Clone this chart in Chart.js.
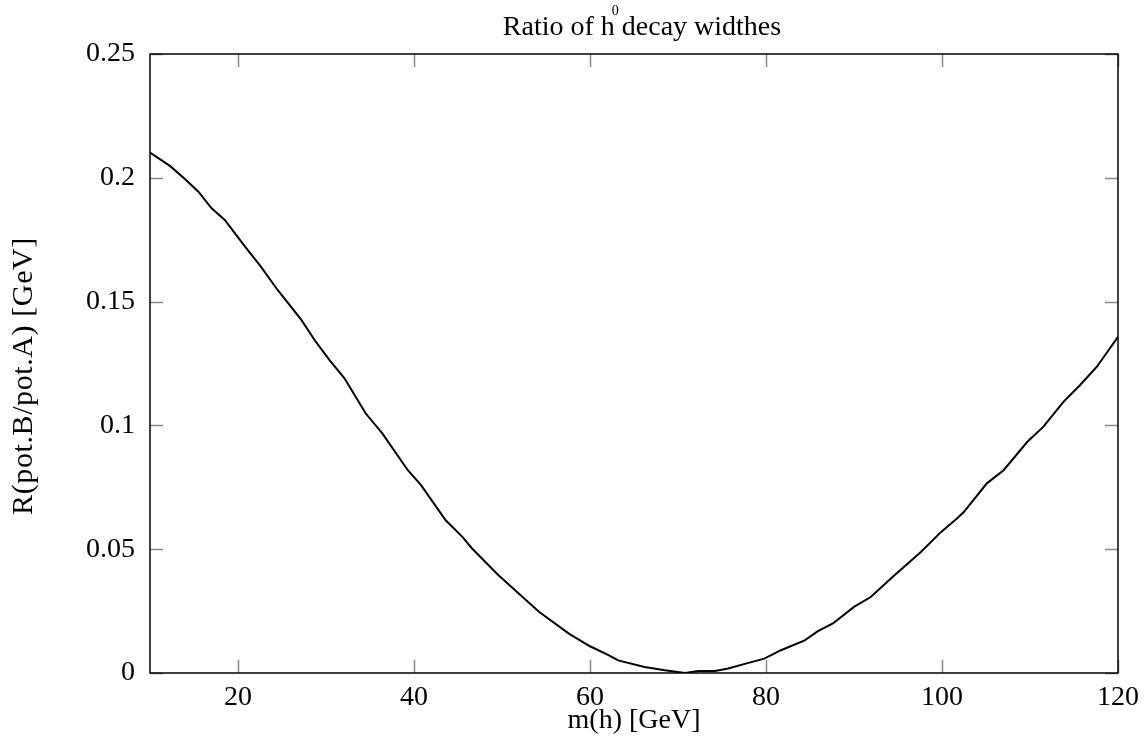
<!DOCTYPE html>
<html>
<head>
<meta charset="utf-8">
<title>Ratio of h0 decay widthes</title>
<script src="https://cdn.jsdelivr.net/npm/chart.js@4/dist/chart.umd.min.js"></script>
<style>
  html, body { margin: 0; padding: 0; background: #fff; }
  #wrap { position: relative; width: 1147px; height: 738px; }
</style>
</head>
<body>
<div id="wrap"><canvas id="ratioChart"></canvas></div>
<script>
// m(h) in GeV
const massGeV = [10, 12.3, 14.0, 15.5, 17.0, 18.5, 20.8, 22.6, 24.5, 27.2, 28.7, 30.4, 32.1, 34.5, 36.4,
  39.3, 40.8, 43.6, 45.5, 46.6, 49.6, 54.2, 57.6, 60.0, 62.1, 63.2, 66.2, 68.5, 70.8, 72.3, 74.2,
  75.7, 77.9, 79.8, 81.7, 84.4, 85.9, 87.6, 90.0, 91.9, 94.6, 97.6, 99.9, 101.7, 102.5, 105.1,
  107.0, 109.7, 111.5, 113.8, 115.7, 117.6, 120];
// R(pot.B/pot.A)
const ratio = [0.2102, 0.2047, 0.1994, 0.1944, 0.1877, 0.1830, 0.1722, 0.1641, 0.1547, 0.1426, 0.1345,
  0.1264, 0.1190, 0.1049, 0.0968, 0.0819, 0.0759, 0.0617, 0.0550, 0.0503, 0.0395, 0.0247, 0.0159,
  0.0108, 0.0072, 0.0051, 0.0024, 0.0011, 0.0000, 0.0008, 0.0008, 0.0018, 0.0040, 0.0058, 0.0092,
  0.0132, 0.0169, 0.0200, 0.0267, 0.0307, 0.0395, 0.0489, 0.0570, 0.0624, 0.0651, 0.0766, 0.0819,
  0.0934, 0.0994, 0.1095, 0.1163, 0.1237, 0.1358];

const xTicks = [20, 40, 60, 80, 100, 120];
const yTicks = [0, 0.05, 0.1, 0.15, 0.2, 0.25];

const serif = '"Liberation Serif", "Times New Roman", serif';
const TICK_LEN = 13;

// gnuplot-like frame with inward ticks on all four sides
const framePlugin = {
  id: 'frame',
  afterDatasetsDraw(chart) {
    const { ctx, chartArea: a, scales } = chart;
    ctx.save();
    ctx.strokeStyle = '#888';
    ctx.lineWidth = 1.5;
    ctx.beginPath();
    xTicks.forEach(v => {
      const px = Math.round(scales.x.getPixelForValue(v)) + 0.5;
      ctx.moveTo(px, a.bottom); ctx.lineTo(px, a.bottom - TICK_LEN);
      ctx.moveTo(px, a.top); ctx.lineTo(px, a.top + TICK_LEN);
    });
    yTicks.forEach(v => {
      const py = Math.round(scales.y.getPixelForValue(v)) + 0.5;
      ctx.moveTo(a.left, py); ctx.lineTo(a.left + TICK_LEN, py);
      ctx.moveTo(a.right, py); ctx.lineTo(a.right - TICK_LEN, py);
    });
    ctx.stroke();
    ctx.strokeStyle = '#000';
    ctx.lineWidth = 1.5;
    ctx.strokeRect(a.left, a.top, a.right - a.left, a.bottom - a.top);
    ctx.restore();
  },
  afterDraw(chart) {
    const { ctx, chartArea: a } = chart;
    ctx.save();
    ctx.fillStyle = '#000';
    // title with the superscript 0 on h
    ctx.textBaseline = 'alphabetic';
    const big = '28px ' + serif, small = '14px ' + serif;
    const p1 = 'Ratio of h', p2 = '0', p3 = 'decay widthes';
    ctx.font = big;
    const w1 = ctx.measureText(p1).width, w3 = ctx.measureText(p3).width;
    ctx.font = small;
    const w2 = ctx.measureText(p2).width;
    let x = (a.left + a.right) / 2 - (w1 + w2 + w3) / 2 + 8;
    const base = 35;
    ctx.font = big; ctx.fillText(p1, x, base); x += w1;
    ctx.font = small; ctx.fillText(p2, x - 3, base - 20); x += w2;
    ctx.font = big; ctx.fillText(p3, x, base);

    // y axis title, a bit below the middle of the frame as in the original
    ctx.translate(24, 376);
    ctx.rotate(-Math.PI / 2);
    ctx.font = '30px ' + serif;
    ctx.letterSpacing = '0.6px';
    ctx.textAlign = 'center';
    ctx.textBaseline = 'middle';
    ctx.fillText('R(pot.B/pot.A) [GeV]', 0, 0);
    ctx.restore();
  }
};

new Chart(document.getElementById('ratioChart'), {
  type: 'line',
  data: {
    datasets: [{
      data: massGeV.map((m, i) => ({ x: m, y: ratio[i] })),
      borderColor: '#000',
      borderWidth: 2,
      pointRadius: 0,
      tension: 0,
      fill: false
    }]
  },
  options: {
    responsive: true,
    maintainAspectRatio: false,
    animation: false,
    layout: { padding: { top: 54, right: 26, bottom: 0, left: 0 } },
    plugins: { legend: { display: false }, tooltip: { enabled: false }, title: { display: false } },
    scales: {
      x: {
        type: 'linear',
        min: 10,
        max: 120,
        afterFit: s => { s.height = 65; },
        afterBuildTicks: s => { s.ticks = xTicks.map(v => ({ value: v })); },
        grid: { display: false, drawTicks: false },
        border: { display: false },
        ticks: { color: '#000', font: { family: serif, size: 28 }, padding: 8, maxRotation: 0 },
        title: { display: true, text: 'm(h) [GeV]', color: '#000', font: { family: serif, size: 28 }, padding: { top: 0, bottom: 1 } }
      },
      y: {
        type: 'linear',
        min: 0,
        max: 0.25,
        afterFit: s => { s.width = 150; },
        afterBuildTicks: s => { s.ticks = yTicks.map(v => ({ value: v })); },
        grid: { display: false, drawTicks: false },
        border: { display: false },
        ticks: { color: '#000', font: { family: serif, size: 28 }, padding: 15, callback: v => String(v) },
        title: { display: false }
      }
    }
  },
  plugins: [framePlugin]
});
</script>
</body>
</html>
